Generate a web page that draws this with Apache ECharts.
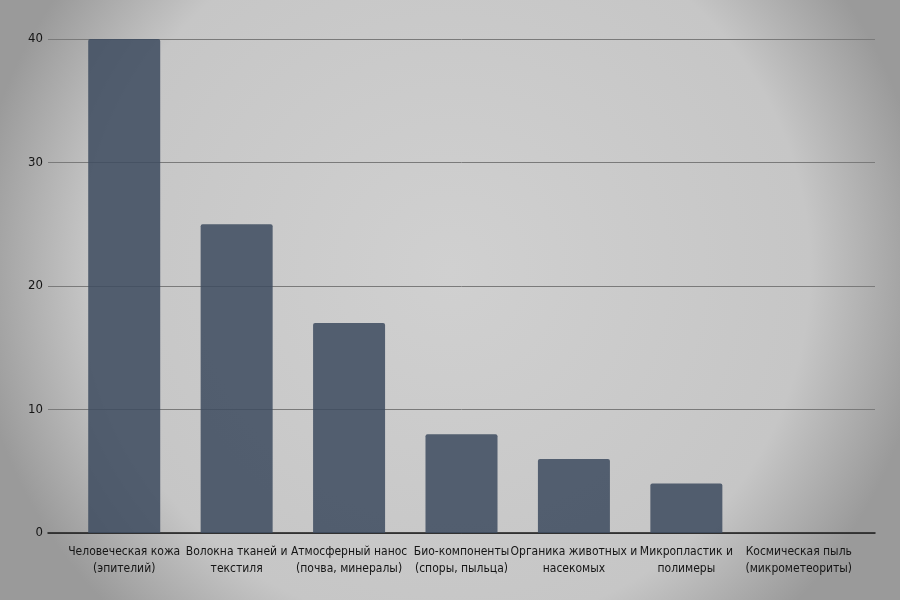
<!DOCTYPE html>
<html><head><meta charset="utf-8">
<script src="https://cdn.jsdelivr.net/npm/echarts@6/dist/echarts.min.js"></script>
<style>html,body{margin:0;padding:0;background:#bcbcbc}#c{width:900px;height:600px}</style>
</head><body><div id="c"></div>
<script>
const categories = [
  "Человеческая кожа\n(эпителий)",
  "Волокна тканей и\nтекстиля",
  "Атмосферный нанос\n(почва, минералы)",
  "Био-компоненты\n(споры, пыльца)",
  "Органика животных и\nнасекомых",
  "Микропластик и\nполимеры",
  "Космическая пыль\n(микрометеориты)"
];
const values = [40, 25, 17, 8, 6, 4, 0];
const yTicks = [0, 10, 20, 30, 40];

const font = '"Liberation Sans Narrow", "DejaVu Sans Condensed", "Liberation Sans", Arial, sans-serif';
const chart = echarts.init(document.getElementById('c'));
chart.setOption({
  backgroundColor: {
    type: 'radial', x: 0.5, y: 0.45, r: 0.8,
    colorStops: [
      {offset: 0, color: '#d0d0d0'},
      {offset: 0.75, color: '#c6c6c6'},
      {offset: 1, color: '#9a9a9a'}
    ]
  },
  grid: [
    {left: 48, right: 25, top: 39, bottom: 67},
    {left: 68, right: 45, top: 39, bottom: 67}
  ],
  xAxis: [
    {gridIndex: 0, type: 'value', min: 0, max: 1, axisLine: {show: true, lineStyle: {color: '#1a1a1a', width: 1.5}},
     axisTick: {show: false}, axisLabel: {show: false}, splitLine: {show: false}},
    {gridIndex: 1, type: 'category', data: categories,
     axisLine: {show: false}, axisTick: {show: false},
     axisLabel: {interval: 0, color: '#151515', fontFamily: font, fontSize: 12, lineHeight: 17, margin: 10}}
  ],
  yAxis: [
    {gridIndex: 0, type: 'value', min: 0, max: 40, interval: 10,
     axisLine: {show: false}, axisTick: {show: false},
     axisLabel: {color: '#151515', fontFamily: font, fontSize: 13, margin: 5,
       formatter: v => yTicks.includes(v) ? String(v) : ''},
     splitLine: {lineStyle: {color: '#7a7a7a', width: 1}}},
    {gridIndex: 1, type: 'value', min: 0, max: 40, interval: 10, show: false}
  ],
  series: [{
    type: 'bar', xAxisIndex: 1, yAxisIndex: 1, data: values, barWidth: 72,
    itemStyle: {color: 'rgba(62,76,96,0.86)', borderRadius: [2, 2, 0, 0]},
    animation: false
  }],
  animation: false
});
</script></body></html>
